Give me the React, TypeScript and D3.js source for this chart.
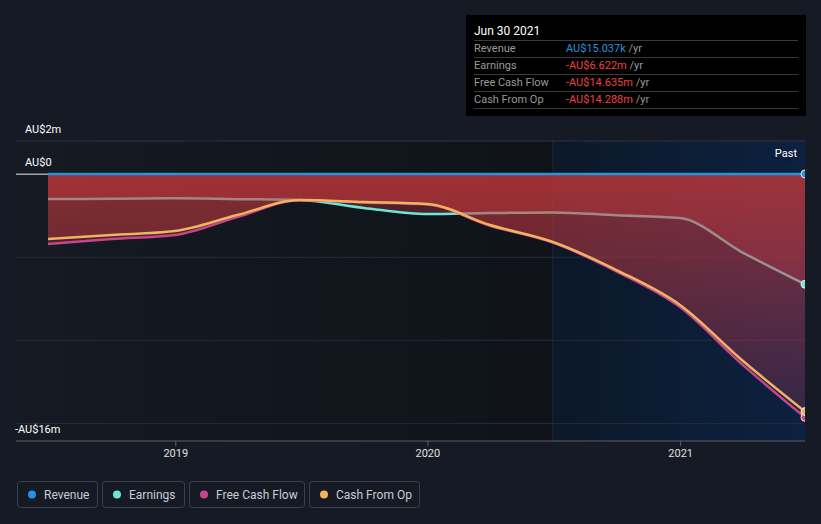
import React from "react";
import * as d3 from "d3";

const dates = [
  "2018-06-30", "2018-09-30", "2018-12-31", "2019-03-31", "2019-06-30",
  "2019-09-30", "2019-12-31", "2020-03-31", "2020-06-30", "2020-09-30",
  "2020-12-31", "2021-03-31", "2021-06-30",
];
const revenue = [0.012, 0.012, 0.013, 0.013, 0.014, 0.014, 0.014, 0.015, 0.015, 0.015, 0.015, 0.015, 0.015];
const earnings = [-1.49, -1.48, -1.45, -1.5, -1.55, -2.03, -2.4, -2.34, -2.3, -2.47, -2.64, -4.7, -6.622];
const freeCashFlow = [-4.2, -3.9, -3.66, -2.58, -1.56, -1.7, -1.83, -3.1, -4.12, -5.85, -8.0, -11.45, -14.635];
const cashFromOp = [-3.9, -3.66, -3.42, -2.46, -1.55, -1.67, -1.79, -3.06, -4.08, -5.77, -7.87, -11.2, -14.288];

const yTicks = [2, 0, -16];
const yGrid = [-5, -10, -15];
const xTicks = ["2019-01-01", "2020-01-01", "2021-01-01"];

const seriesMeta = [
  { name: "Revenue", color: "#2394df", values: revenue },
  { name: "Earnings", color: "#6ee6d6", values: earnings },
  { name: "Free Cash Flow", color: "#c6458b", values: freeCashFlow },
  { name: "Cash From Op", color: "#f0b35e", values: cashFromOp },
];

const tooltipRows = [
  { label: "Revenue", value: "AU$15.037k", color: "#2394df" },
  { label: "Earnings", value: "-AU$6.622m", color: "#f0413f" },
  { label: "Free Cash Flow", value: "-AU$14.635m", color: "#f0413f" },
  { label: "Cash From Op", value: "-AU$14.288m", color: "#f0413f" },
];

const legendWidths = [80, 82, 115, 110];

const W = 821;
const H = 524;
const FONT = "Roboto, 'Noto Sans', sans-serif";

export default function App() {
  const parse = d3.timeParse("%Y-%m-%d");
  const dts = dates.map((d) => parse(d) as Date);
  const x = d3.scaleTime().domain([dts[0], dts[dts.length - 1]]).range([48, 805]);
  const y = d3.scaleLinear().domain([-16, 2]).range([440, 141]);
  const plotL = 16;
  const plotR = 805;
  const pastX = x(parse("2020-06-30") as Date);

  const line = (vals: number[]) =>
    d3.line<number>().x((_, i) => x(dts[i])).y((v) => y(v)).curve(d3.curveMonotoneX)(vals) || "";
  const area = (vals: number[]) =>
    d3.area<number>().x((_, i) => x(dts[i])).y0(y(0)).y1((v) => y(v)).curve(d3.curveMonotoneX)(vals) || "";

  const last = dts.length - 1;

  let lx = 17;
  const legendItems = seriesMeta.map((s, i) => {
    const item = { ...s, x: lx, w: legendWidths[i] };
    lx += legendWidths[i] + 5;
    return item;
  });

  return (
    <svg width={W} height={H} style={{ position: "absolute", left: 0, top: 0, background: "#151a24", fontFamily: FONT }}>
      <defs>
        <linearGradient id="leftBg" x1="0" x2="1" y1="0" y2="0">
          <stop offset="0" stopColor="#151a23" />
          <stop offset="1" stopColor="#0f1319" />
        </linearGradient>
        <linearGradient id="pastBg" x1="0" x2="1" y1="0" y2="0">
          <stop offset="0" stopColor="#0c1828" />
          <stop offset="1" stopColor="#0c2140" />
        </linearGradient>
        <linearGradient id="areaFill" gradientUnits="userSpaceOnUse" x1="0" x2="0" y1={y(0)} y2={y(-16)}>
          <stop offset="0" stopColor="#d03a3a" stopOpacity={0.36} />
          <stop offset="0.35" stopColor="#c83a48" stopOpacity={0.28} />
          <stop offset="1" stopColor="#b03a60" stopOpacity={0.1} />
        </linearGradient>
        <clipPath id="plotClip">
          <rect x={plotL} y={120} width={plotR - plotL} height={321} />
        </clipPath>
      </defs>
      <rect x={0} y={0} width={W} height={H} fill="#151a24" />
      <rect x={plotL} y={141} width={pastX - plotL} height={300} fill="url(#leftBg)" />
      <rect x={pastX} y={141} width={plotR - pastX} height={300} fill="url(#pastBg)" />
      <line x1={pastX} x2={pastX} y1={141} y2={441} stroke="#1d2838" strokeWidth={1} />

      {/* grid */}
      <line x1={plotL} x2={plotR} y1={y(2)} y2={y(2)} stroke="#2e3440" strokeWidth={1} />
      {yGrid.map((g) => (
        <line key={g} x1={plotL} x2={plotR} y1={y(g)} y2={y(g)} stroke="#262c38" strokeWidth={1} />
      ))}
      <line x1={plotL} x2={plotR} y1={y(0)} y2={y(0)} stroke="#a0a4aa" strokeWidth={1.5} />

      <g clipPath="url(#plotClip)">
        <path d={area(earnings)} fill="url(#areaFill)" />
        <path d={line(earnings)} fill="none" stroke="#6ee6d6" strokeWidth={2.5} />
        <path d={area(freeCashFlow)} fill="url(#areaFill)" />
        <path d={area(cashFromOp)} fill="url(#areaFill)" />
        <path d={line(freeCashFlow)} fill="none" stroke="#c6458b" strokeWidth={2.5} />
        <path d={line(cashFromOp)} fill="none" stroke="#f0b35e" strokeWidth={2.5} />
        <path d={line(revenue)} fill="none" stroke="#2394df" strokeWidth={2.5} />
        {seriesMeta.map((s) => (
          <circle key={s.name} cx={x(dts[last])} cy={y(s.values[last])} r={4}
            fill={s.color} stroke="#e8e8ee" strokeWidth={1} />
        ))}
      </g>

      {/* x axis */}
      <line x1={plotL} x2={plotR} y1={441} y2={441} stroke="#5a5f68" strokeWidth={1} />
      {xTicks.map((t) => {
        const xx = x(parse(t) as Date);
        return (
          <g key={t}>
            <line x1={xx} x2={xx} y1={441} y2={446} stroke="#5a5f68" />
            <text x={xx} y={457} fill="#e0e0e0" fontSize={11} textAnchor="middle">
              {t.slice(0, 4)}
            </text>
          </g>
        );
      })}

      {/* y labels */}
      {yTicks.map((t) => (
        <text key={t} x={t === -16 ? 15 : 25} y={t === -16 ? 433 : y(t) - 8} fill="#ffffff" fontSize={11}>
          {t === 0 ? "AU$0" : t > 0 ? `AU$${t}m` : `-AU$${Math.abs(t)}m`}
        </text>
      ))}

      <text x={797} y={157} fill="#ffffff" fontSize={11} textAnchor="end">Past</text>

      {/* tooltip */}
      <rect x={466} y={15} width={340} height={101} fill="#000000" />
      <text x={474} y={35} fill="#ffffff" fontSize={12}>Jun 30 2021</text>
      {tooltipRows.map((r, i) => (
        <g key={r.label}>
          <line x1={474} x2={798} y1={40.5 + i * 17} y2={40.5 + i * 17} stroke="#3a3a3a" />
          <text x={474} y={52 + i * 17} fill="#9a9a9a" fontSize={11}>{r.label}</text>
          <text x={566} y={52 + i * 17} fontSize={11}>
            <tspan fill={r.color}>{r.value}</tspan>
            <tspan fill="#9a9a9a"> /yr</tspan>
          </text>
        </g>
      ))}
      <line x1={474} x2={798} y1={108.5} y2={108.5} stroke="#3a3a3a" />

      {/* legend */}
      {legendItems.map((it) => (
        <g key={it.name}>
          <rect x={it.x + 0.5} y={481.5} width={it.w} height={26} rx={3} fill="none" stroke="#3b404b" />
          <circle cx={it.x + 15} cy={494.5} r={4} fill={it.color} />
          <text x={it.x + 27} y={498.5} fill="#c8ccd2" fontSize={12}>{it.name}</text>
        </g>
      ))}
    </svg>
  );
}
